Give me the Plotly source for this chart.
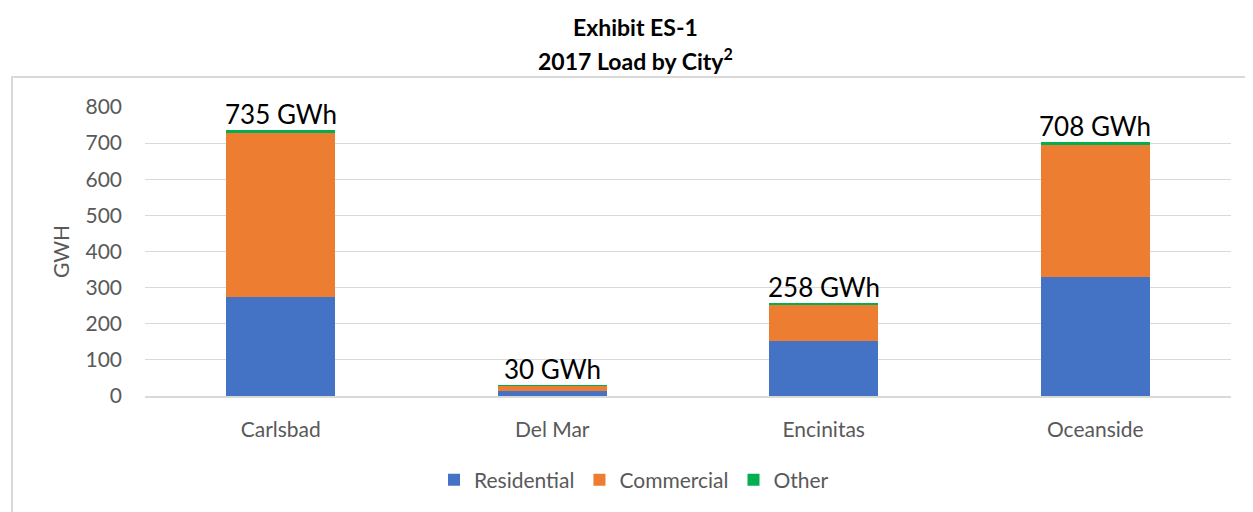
import plotly.graph_objects as go

cities = ["Carlsbad", "Del Mar", "Encinitas", "Oceanside"]
residential = [275, 15, 153, 330]
commercial = [452, 14, 100, 366]
other = [8, 1, 5, 7]
totals = [735, 30, 258, 708]
label_text = [f"{t} GWh" for t in totals]
y_ticks = [0, 100, 200, 300, 400, 500, 600, 700, 800]

FONT = "Lato, 'Open Sans', sans-serif"
GRAY = "#595959"

# page body has an 8px margin; figure is sized/offset to compensate
W, H = 1245, 504
L, R, T, B = 137, 22, 99, 116
PH = H - T - B  # plot height in px
PW = W - L - R

fig = go.Figure()
fig.add_bar(name="Residential", x=cities, y=residential, marker_color="#4472C4",
            marker_line_width=0)
fig.add_bar(name="Commercial", x=cities, y=commercial, marker_color="#ED7D31",
            marker_line_width=0)
fig.add_bar(name="Other", x=cities, y=other, marker_color="#00B050",
            marker_line_width=0)

stack_tops = [r + c + o for r, c, o in zip(residential, commercial, other)]
annotations = [
    dict(x=c, y=t, xref="x", yref="y", text=lbl, showarrow=False,
         yanchor="bottom", yshift=-2,
         font=dict(family=FONT, size=26, color="#000000"))
    for c, t, lbl in zip(cities, stack_tops, label_text)
]
annotations += [
    dict(x=(627 - L) / PW, y=(T + PH - 19) / PH, xref="paper", yref="paper",
         text="<b>Exhibit ES-1</b>", showarrow=False, xanchor="center",
         yanchor="middle", font=dict(family=FONT, size=23, color="#000000")),
    dict(x=(627 - L) / PW, y=(T + PH - 52) / PH, xref="paper", yref="paper",
         text="<b>2017 Load by City<sup>2</sup></b>", showarrow=False,
         xanchor="center", yanchor="middle",
         font=dict(family=FONT, size=23, color="#000000")),
]

fig.update_layout(
    width=W, height=H,
    margin=dict(l=L, r=R, t=T, b=B),
    barmode="stack", bargap=0.6,
    plot_bgcolor="white", paper_bgcolor="white",
    font=dict(family=FONT, size=21, color=GRAY),
    annotations=annotations,
    legend=dict(orientation="h", x=(626 - L) / PW, xanchor="center",
                y=-84 / PH, yanchor="middle",
                font=dict(family=FONT, size=21, color=GRAY), itemwidth=30,
                traceorder="normal"),
    xaxis=dict(showgrid=False, showline=True, linecolor="#d9d9d9", linewidth=2,
               ticks="", tickfont=dict(size=21, color=GRAY), ticklabelstandoff=14),
    yaxis=dict(range=[0, 800], tickvals=y_ticks, showgrid=True, gridcolor="#d9d9d9",
               gridwidth=1.3, zeroline=False, ticks="", ticklabelstandoff=22,
               tickfont=dict(size=21, color=GRAY),
               title=dict(text="GWH", font=dict(size=21, color=GRAY), standoff=10)),
    shapes=[dict(type="rect", xref="paper", yref="paper",
                 x0=(4 - L) / PW, x1=1.05, y0=-0.45, y1=(PH + T - 69) / PH,
                 line=dict(color="#d9d9d9", width=2), fillcolor="rgba(0,0,0,0)",
                 layer="below")],
)

fig.write_html("out.html")
